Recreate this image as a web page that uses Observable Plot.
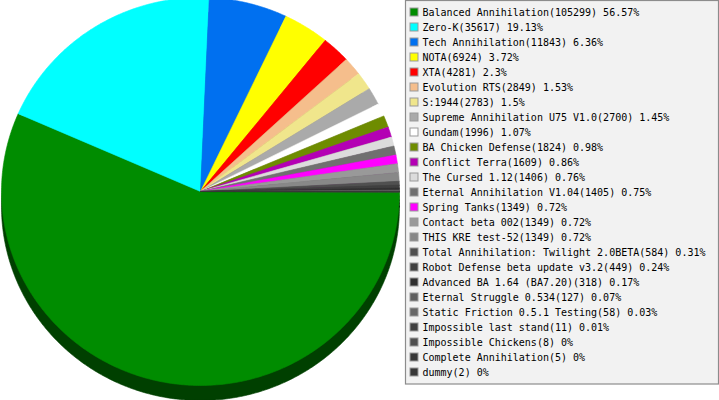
<!DOCTYPE html>
<html>
<head>
<meta charset="utf-8">
<script src="https://cdn.jsdelivr.net/npm/d3@7"></script>
<script src="https://cdn.jsdelivr.net/npm/@observablehq/plot@0.6"></script>
<style>
  html, body { margin: 0; padding: 0; background: #fff; overflow: hidden; }
  #chart svg { display: block; overflow: hidden; }
</style>
</head>
<body>
<div id="chart"></div>
<script>
const names = [
  "Balanced Annihilation", "Zero-K", "Tech Annihilation", "NOTA", "XTA",
  "Evolution RTS", "S:1944", "Supreme Annihilation U75 V1.0", "Gundam",
  "BA Chicken Defense", "Conflict Terra", "The Cursed 1.12",
  "Eternal Annihilation V1.04", "Spring Tanks", "Contact beta 002",
  "THIS KRE test-52", "Total Annihilation: Twilight 2.0BETA",
  "Robot Defense beta update v3.2", "Advanced BA 1.64 (BA7.20)",
  "Eternal Struggle 0.534", "Static Friction 0.5.1 Testing",
  "Impossible last stand", "Impossible Chickens", "Complete Annihilation", "dummy"
];
const counts = [105299, 35617, 11843, 6924, 4281, 2849, 2783, 2700, 1996, 1824,
  1609, 1406, 1405, 1349, 1349, 1349, 584, 449, 318, 127, 58, 11, 8, 5, 2];
const percents = ["56.57", "19.13", "6.36", "3.72", "2.3", "1.53", "1.5", "1.45",
  "1.07", "0.98", "0.86", "0.76", "0.75", "0.72", "0.72", "0.72", "0.31", "0.24",
  "0.17", "0.07", "0.03", "0.01", "0", "0", "0"];
const colors = ["#008c00", "#00ffff", "#0070f0", "#ffff00", "#ff0000", "#f5be8c",
  "#f0e68c", "#aaaaaa", "#ffffff", "#6e8c00", "#b400b4", "#dcdcdc", "#707070",
  "#ff00ff", "#999999", "#888888", "#505050", "#404040", "#303030", "#606060",
  "#686868", "#404040", "#505050", "#383838", "#383838"];

// layout
const W = 719, H = 400;
const cx = 200, cy = 191, rx = 199, ry = 194, depth = 15;

const arcs = d3.pie().sort(null).startAngle(0).endAngle(2 * Math.PI)(counts);

function slicePoints(dy, dark) {
  const pts = [];
  arcs.forEach((a, i) => {
    const key = i;
    const c = d3.rgb(colors[i]);
    const fill = dark ? d3.rgb(c.r * 0.46, c.g * 0.46, c.b * 0.46).formatHex() : colors[i];
    pts.push({key, x: cx, y: cy + dy, fill});
    const n = Math.max(2, Math.ceil((a.endAngle - a.startAngle) / (Math.PI / 360)));
    for (let k = 0; k <= n; k++) {
      const t = a.startAngle + (a.endAngle - a.startAngle) * k / n;
      pts.push({key, x: cx + rx * Math.cos(t), y: cy + dy + ry * Math.sin(t), fill});
    }
  });
  return pts;
}

const shadowPts = slicePoints(depth, true);
const facePts = slicePoints(0, false);

const legendRows = names.map((name, i) => ({
  i, name, color: colors[i],
  label: `${name}(${counts[i]}) ${percents[i]}%`
}));
const rowY = i => 12 + i * 15;

const chart = Plot.plot({
  width: W, height: H,
  margin: 0,
  x: {domain: [0, W], range: [0, W], axis: null},
  y: {domain: [0, H], range: [0, H], axis: null},
  color: {type: "identity"},
  style: {background: "#fff", overflow: "hidden"},
  marks: [
    Plot.line(shadowPts, {x: "x", y: "y", z: "key", fill: "fill", stroke: "fill", strokeWidth: 0.6, curve: "linear-closed"}),
    Plot.line(facePts, {x: "x", y: "y", z: "key", fill: "fill", stroke: "fill", strokeWidth: 0.6, curve: "linear-closed"}),
    Plot.rect([0], {x1: 405.5, x2: 718.5, y1: 0.5, y2: 384, fill: "#f2f2f2", stroke: "#8c8c8c", strokeWidth: 1.2}),
    Plot.rect(legendRows, {x1: 410, x2: 418, y1: d => rowY(d.i) - 4, y2: d => rowY(d.i) + 4, fill: "color", stroke: "#999999", strokeWidth: 1}),
    Plot.text(legendRows, {x: 422, y: d => rowY(d.i) + 0.5, text: "label", textAnchor: "start", fill: "#000", fontFamily: "DejaVu Sans Mono", fontSize: 10})
  ]
});
document.getElementById("chart").appendChild(chart);
</script>
</body>
</html>
